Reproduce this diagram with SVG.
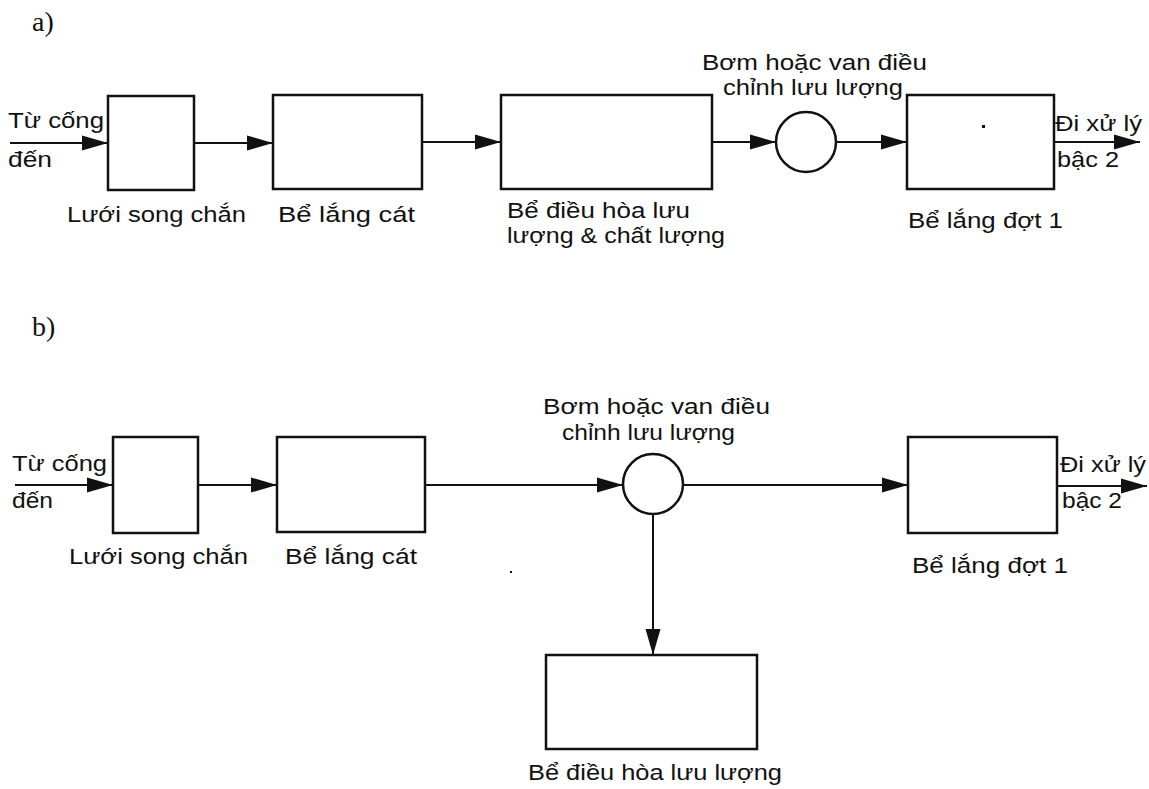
<svg xmlns="http://www.w3.org/2000/svg" width="1149" height="789" viewBox="0 0 1149 789">
<defs>
<style>
.box{fill:none;stroke:#111;stroke-width:2.5}
.ln{fill:none;stroke:#111;stroke-width:2}
.t{font-family:"Liberation Sans",Arial,sans-serif;font-size:22px;fill:#111}
.lbl{font-family:"Liberation Serif","Times New Roman",serif;font-size:28px;fill:#111}
</style>
<marker id="ah" markerUnits="userSpaceOnUse" markerWidth="27" markerHeight="18" refX="26" refY="9" orient="auto">
<path d="M0,1.5 L26,9 L0,16.5 Z" fill="#111"/>
</marker>
</defs>
<rect width="1149" height="789" fill="#fff"/>

<text class="lbl" x="32" y="31">a)</text>
<text class="lbl" x="32" y="336">b)</text>

<g id="connectors">
<line class="ln" x1="10" y1="143" x2="108" y2="143" marker-end="url(#ah)"/>
<line class="ln" x1="194" y1="143" x2="273" y2="143" marker-end="url(#ah)"/>
<line class="ln" x1="422" y1="142" x2="501" y2="142" marker-end="url(#ah)"/>
<line class="ln" x1="712" y1="142" x2="776" y2="142" marker-end="url(#ah)"/>
<line class="ln" x1="836" y1="142" x2="907" y2="142" marker-end="url(#ah)"/>
<line class="ln" x1="1054" y1="142" x2="1140" y2="142" marker-end="url(#ah)"/>

<line class="ln" x1="15" y1="485" x2="113" y2="485" marker-end="url(#ah)"/>
<line class="ln" x1="198" y1="485" x2="277" y2="485" marker-end="url(#ah)"/>
<line class="ln" x1="425" y1="485" x2="623" y2="485" marker-end="url(#ah)"/>
<line class="ln" x1="683" y1="485" x2="908" y2="485" marker-end="url(#ah)"/>
<line class="ln" x1="1057" y1="486" x2="1147" y2="486" marker-end="url(#ah)"/>
<line class="ln" x1="653" y1="514" x2="653" y2="655" marker-end="url(#ah)"/>
</g>

<g id="a-input"><text class="t" x="8" y="128" textLength="96" lengthAdjust="spacingAndGlyphs">Từ cống</text><text class="t" x="8" y="167" textLength="44" lengthAdjust="spacingAndGlyphs">đến</text></g>
<g id="a-screen"><rect class="box" x="108" y="96" width="86" height="94"/><text class="t" x="67" y="222" textLength="179" lengthAdjust="spacingAndGlyphs">Lưới song chắn</text></g>
<g id="a-grit"><rect class="box" x="273" y="95" width="149" height="94"/><text class="t" x="278" y="222" textLength="137" lengthAdjust="spacingAndGlyphs">Bể lắng cát</text></g>
<g id="a-equal"><rect class="box" x="501" y="95" width="211" height="94"/><text class="t" x="507" y="218" textLength="183" lengthAdjust="spacingAndGlyphs">Bể điều hòa lưu</text><text class="t" x="507" y="243" textLength="218" lengthAdjust="spacingAndGlyphs">lượng &amp; chất lượng</text></g>
<g id="a-pump"><circle class="box" cx="806" cy="142" r="30"/><text class="t" x="702" y="70" textLength="225" lengthAdjust="spacingAndGlyphs">Bơm hoặc van điều</text><text class="t" x="723" y="95" textLength="180" lengthAdjust="spacingAndGlyphs">chỉnh lưu lượng</text></g>
<g id="a-primary"><rect class="box" x="907" y="95" width="147" height="94"/><rect x="982" y="125" width="3" height="3" fill="#111"/><text class="t" x="908" y="228" textLength="155" lengthAdjust="spacingAndGlyphs">Bể lắng đợt 1</text></g>
<g id="a-output"><text class="t" x="1055" y="131" textLength="87" lengthAdjust="spacingAndGlyphs">Đi xử lý</text><text class="t" x="1057" y="167" textLength="62" lengthAdjust="spacingAndGlyphs">bậc 2</text></g>

<g id="b-input"><text class="t" x="12" y="471" textLength="95" lengthAdjust="spacingAndGlyphs">Từ cống</text><text class="t" x="12" y="508" textLength="41" lengthAdjust="spacingAndGlyphs">đến</text></g>
<g id="b-screen"><rect class="box" x="113" y="437" width="85" height="96"/><text class="t" x="69" y="564" textLength="179" lengthAdjust="spacingAndGlyphs">Lưới song chắn</text></g>
<g id="b-grit"><rect class="box" x="277" y="437" width="148" height="95"/><text class="t" x="285" y="564" textLength="132" lengthAdjust="spacingAndGlyphs">Bể lắng cát</text><rect x="510" y="571" width="2" height="2" fill="#111"/></g>
<g id="b-pump"><circle class="box" cx="653" cy="484" r="30"/><text class="t" x="543" y="414" textLength="227" lengthAdjust="spacingAndGlyphs">Bơm hoặc van điều</text><text class="t" x="562" y="440" textLength="173" lengthAdjust="spacingAndGlyphs">chỉnh lưu lượng</text></g>
<g id="b-primary"><rect class="box" x="908" y="437" width="149" height="96"/><text class="t" x="912" y="573" textLength="156" lengthAdjust="spacingAndGlyphs">Bể lắng đợt 1</text></g>
<g id="b-output"><text class="t" x="1060" y="472" textLength="86" lengthAdjust="spacingAndGlyphs">Đi xử lý</text><text class="t" x="1062" y="508" textLength="60" lengthAdjust="spacingAndGlyphs">bậc 2</text></g>
<g id="b-equal"><rect class="box" x="546" y="655" width="211" height="94"/><text class="t" x="528" y="780" textLength="254" lengthAdjust="spacingAndGlyphs">Bể điều hòa lưu lượng</text></g>
</svg>
